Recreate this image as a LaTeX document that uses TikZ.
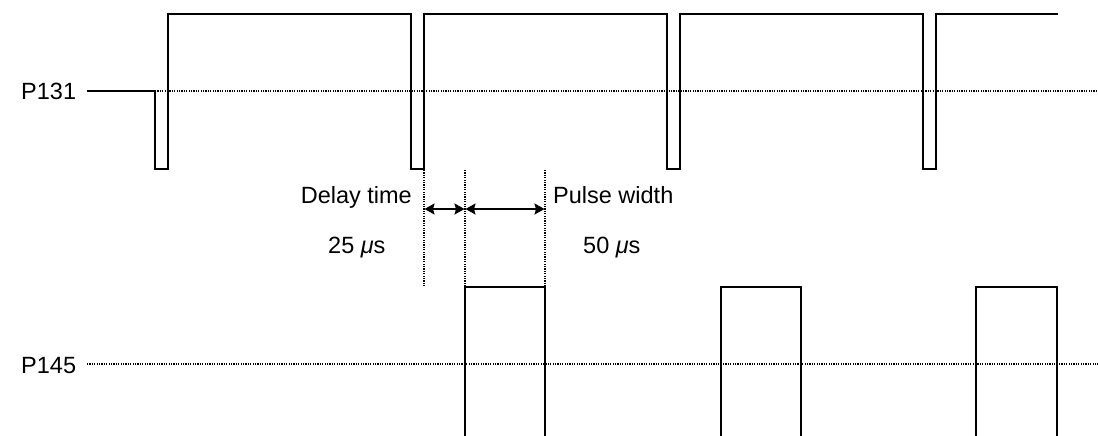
\documentclass[tikz,border=0pt]{standalone}
\usepackage{fontspec}
\setmainfont{Liberation Sans}
\usetikzlibrary{arrows.meta}
\begin{document}
\begin{tikzpicture}[x=1pt,y=-1pt,
  sig/.style={line width=1.8pt, line join=miter},
  pulse/.style={line width=1.6pt, line join=miter},
  dotline/.style={line width=1.2pt, dash pattern=on 1.1pt off 1.3pt},
  lbl/.style={font=\fontsize{23.5}{28}\selectfont, inner sep=0pt},
  dimarrow/.style={line width=1.8pt, {Stealth[length=10pt,width=11pt,inset=1.5pt]}-{Stealth[length=10pt,width=11pt,inset=1.5pt]}}]
\useasboundingbox (0,0) rectangle (1098,436);
% reference lines
\draw[dotline] (155,91) -- (1098,91);
\draw[dotline] (87,364) -- (1098,364);
% P131 waveform
\draw[sig] (87,91) -| (155,169) -| (168,14) -| (411,169) -| (424,14) -| (667,169) -| (680,14) -| (923,169) -| (936,14) -- (1058,14);
% P145 pulses
\draw[pulse] (465,437) |- (545,287) -- (545,437);
\draw[pulse] (721,437) |- (801,287) -- (801,437);
\draw[pulse] (976,437) |- (1057,287) -- (1057,437);
% marker lines
\coordinate (d0t) at (424,170);
\coordinate (d0b) at (424,286);
\coordinate (d1t) at (465,170);
\coordinate (d1b) at (465,287);
\coordinate (d2t) at (545,170);
\coordinate (d2b) at (545,287);
\draw[dotline] (d0t) -- (d0b);
\draw[dotline] (d1t) -- (d1b);
\draw[dotline] (d2t) -- (d2b);
% dimension arrows
\coordinate (a0) at (424.5,209);
\coordinate (a1) at (464.5,209);
\coordinate (a1b) at (465.5,209);
\coordinate (a2) at (544.5,209);
\draw[dimarrow] (a0) -- (a1);
\draw[dimarrow] (a1b) -- (a2);
% labels
\node[lbl, anchor=base west] (p131) at (21,99.5) {P131};
\node[lbl, anchor=base west] (p145) at (21,373.5) {P145};
\node[lbl, anchor=base east] (delay) at (412,203) {Delay time};
\node[lbl, anchor=base west] (dval) at (328,253) {25 {\itshape μ}s};
\node[lbl, anchor=base west] (pw) at (553,203) {Pulse width};
\node[lbl, anchor=base west] (pval) at (583,253) {50 {\itshape μ}s};
\end{tikzpicture}
\end{document}
